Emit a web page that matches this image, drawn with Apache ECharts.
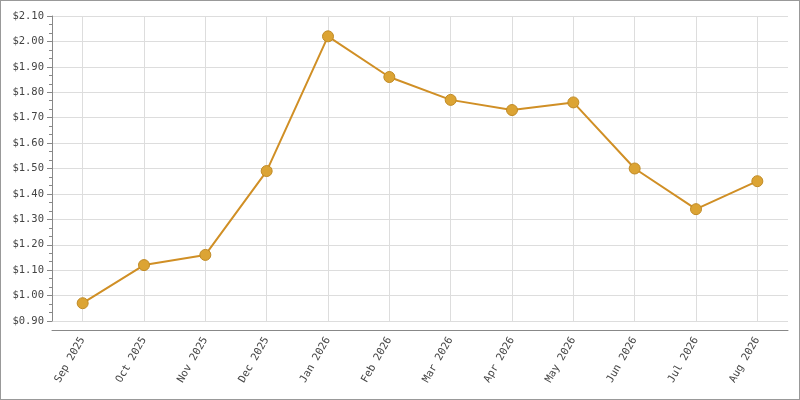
<!DOCTYPE html><html><head><meta charset="utf-8"><script src="https://cdn.jsdelivr.net/npm/echarts@6/dist/echarts.min.js"></script>
<style>body{margin:0}#c{width:798px;height:398px;border:1px solid #999}</style></head><body><div id="c"></div><script>
const categories=['Sep 2025','Oct 2025','Nov 2025','Dec 2025','Jan 2026','Feb 2026','Mar 2026','Apr 2026','May 2026','Jun 2026','Jul 2026','Aug 2026'];
const values=[0.97,1.12,1.16,1.49,2.02,1.86,1.77,1.73,1.76,1.50,1.34,1.45];
const f='DejaVu Sans Mono';
const ch=echarts.init(document.getElementById('c'));
ch.setOption({animation:false,
grid:{left:51,right:11,top:15,height:305},
xAxis:{type:'category',data:categories,boundaryGap:true,offset:9,
 axisLine:{lineStyle:{color:'#888'}},axisTick:{alignWithLabel:true,length:5,lineStyle:{color:'#888'}},
 axisLabel:{rotate:60,color:'#444',fontFamily:f,fontSize:10.5,margin:8},splitLine:{show:false}},
yAxis:{type:'value',min:0.9,max:2.1,interval:0.1,
 axisLine:{show:true,lineStyle:{color:'#888'}},axisTick:{show:true,length:5,lineStyle:{color:'#888'}},
 minorTick:{show:true,splitNumber:3,length:3,lineStyle:{color:'#888'}},
 axisLabel:{color:'#444',fontFamily:f,fontSize:10.5,margin:8,formatter:v=>'$'+v.toFixed(2)},
 splitLine:{lineStyle:{color:'#ddd'}}},
series:[{type:'line',data:[],z:1,
 markLine:{silent:true,symbol:'none',label:{show:false},lineStyle:{color:'#ddd',type:'solid',width:1},
  data:categories.map(c=>({xAxis:c}))}},
 {type:'line',data:values,symbol:'circle',symbolSize:11,z:5,
 lineStyle:{color:'#d08f25',width:2},itemStyle:{color:'#dca434',borderColor:'#c08a25',borderWidth:1}}]});
</script></body></html>
